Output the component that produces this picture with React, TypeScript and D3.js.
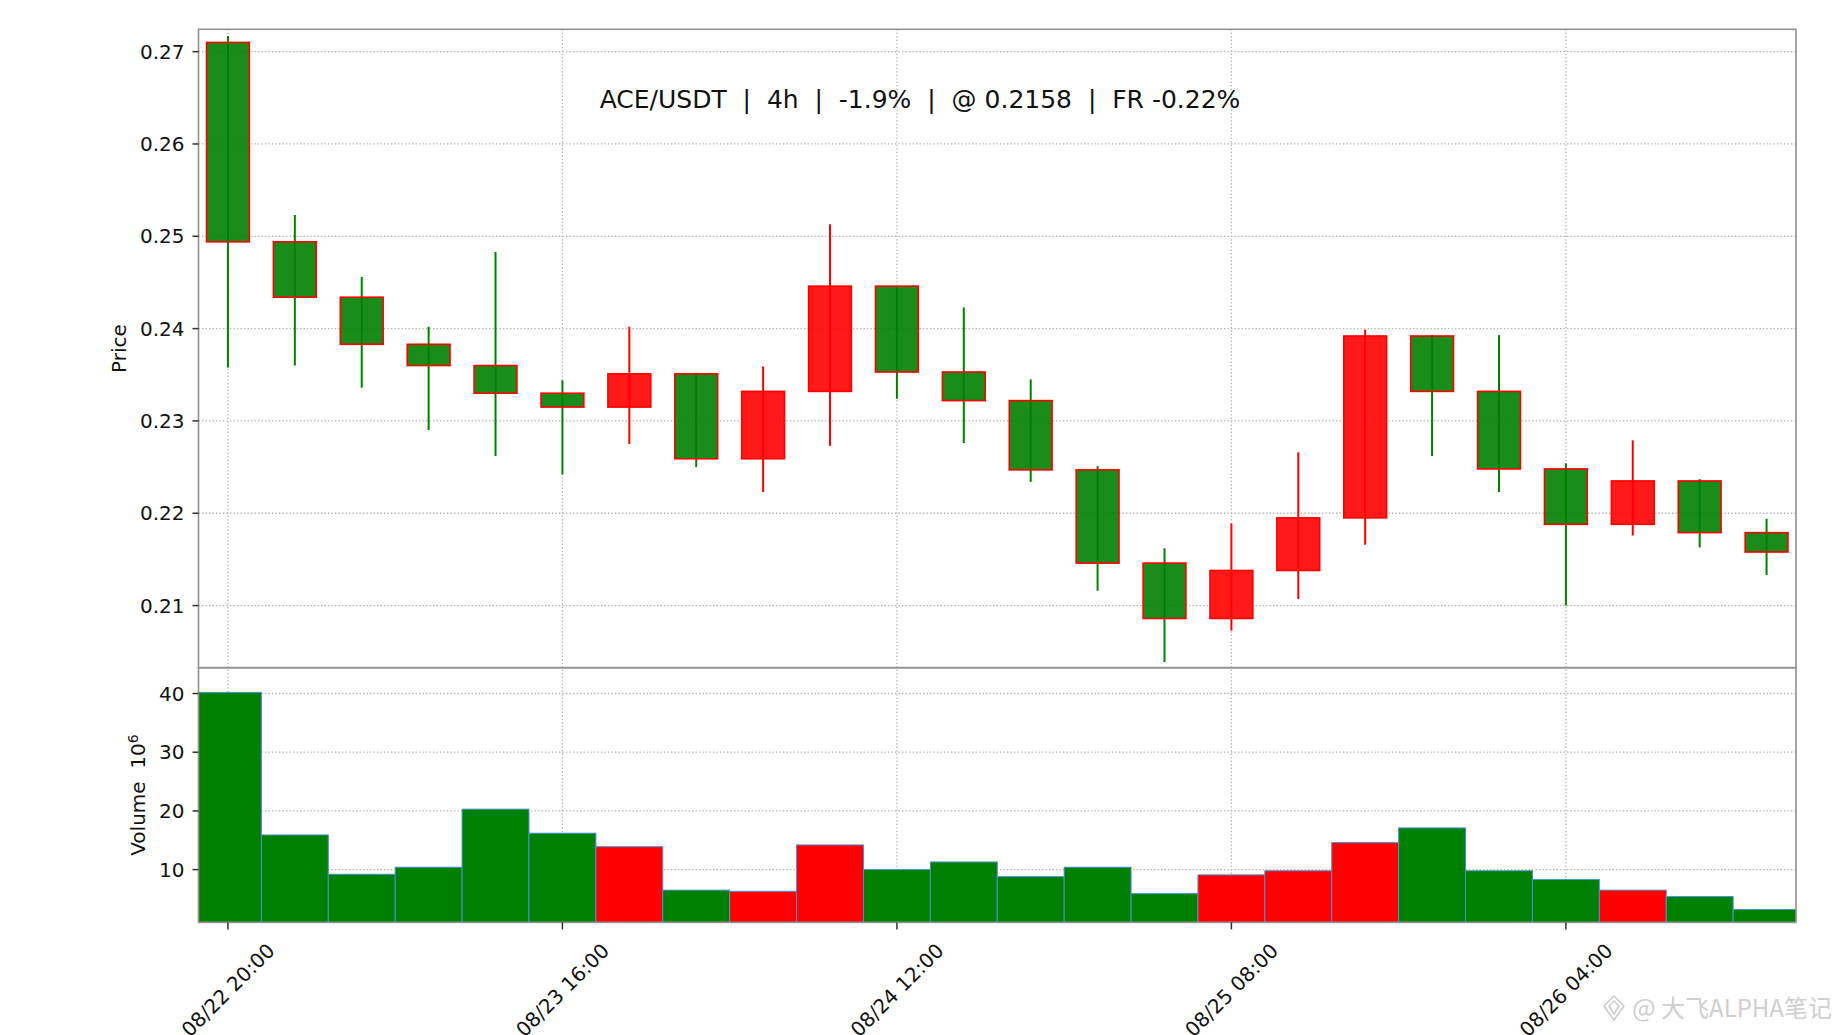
import React from "react";
import * as d3 from "d3";

// ---- data ----
const times = [
  "08/22 20:00", "08/23 00:00", "08/23 04:00", "08/23 08:00", "08/23 12:00", "08/23 16:00",
  "08/23 20:00", "08/24 00:00", "08/24 04:00", "08/24 08:00", "08/24 12:00", "08/24 16:00",
  "08/24 20:00", "08/25 00:00", "08/25 04:00", "08/25 08:00", "08/25 12:00", "08/25 16:00",
  "08/25 20:00", "08/26 00:00", "08/26 04:00", "08/26 08:00", "08/26 12:00", "08/26 16:00",
];
const opens = [0.2710, 0.2494, 0.2434, 0.2383, 0.2360, 0.2330, 0.2315, 0.2351, 0.2259, 0.2332, 0.2446, 0.2353,
  0.2322, 0.2247, 0.2146, 0.2086, 0.2138, 0.2195, 0.2392, 0.2332, 0.2248, 0.2188, 0.2235, 0.2179];
const highs = [0.2717, 0.2523, 0.2456, 0.2402, 0.2483, 0.2344, 0.2402, 0.2352, 0.2359, 0.2513, 0.2446, 0.2423,
  0.2345, 0.2251, 0.2162, 0.2189, 0.2266, 0.2399, 0.2393, 0.2393, 0.2254, 0.2279, 0.2237, 0.2194];
const lows = [0.2358, 0.2360, 0.2336, 0.2290, 0.2262, 0.2242, 0.2275, 0.2250, 0.2223, 0.2273, 0.2324, 0.2276,
  0.2234, 0.2116, 0.2039, 0.2073, 0.2107, 0.2166, 0.2262, 0.2223, 0.2100, 0.2176, 0.2163, 0.2133];
const closes = [0.2494, 0.2434, 0.2383, 0.2360, 0.2330, 0.2315, 0.2351, 0.2259, 0.2332, 0.2446, 0.2353, 0.2322,
  0.2247, 0.2146, 0.2086, 0.2138, 0.2195, 0.2392, 0.2332, 0.2248, 0.2188, 0.2235, 0.2179, 0.2158];
const volumes = [40.2, 15.9, 9.2, 10.4, 20.3, 16.2, 13.9, 6.5, 6.3, 14.2, 10.0, 11.3,
  8.8, 10.4, 5.9, 9.1, 9.8, 14.6, 17.1, 9.8, 8.3, 6.5, 5.4, 3.2];
const xTickLabels = ["08/22 20:00", "08/23 16:00", "08/24 12:00", "08/25 08:00", "08/26 04:00"];
const priceTicks = [0.21, 0.22, 0.23, 0.24, 0.25, 0.26, 0.27];
const volumeTicks = [10, 20, 30, 40];
const titleText = "ACE/USDT  |  4h  |  -1.9%  |  @ 0.2158  |  FR -0.22%";

// ---- layout ----
const W = 1840, H = 1035;
const L = 198.5, R = 1796;
const PT = 29.3, PB = 667.7, VB = 922.4;
const FONT = "DejaVu Sans, sans-serif";
const UP = "#ff0000", DOWN = "#008000";

export default function App() {
  const x = d3.scaleLinear().domain([-0.44, times.length - 1 + 0.44]).range([L, R]);
  const step = x(1) - x(0);
  const yP = d3.scaleLinear().domain([0.20327, 0.27242]).range([PB, PT]);
  const yV = d3.scaleLinear().domain([1.0, 44.4]).range([VB, PB]);
  const fmt = d3.format(".2f");
  const bodyW = step * 0.64;
  const tickIdx = xTickLabels.map((t) => times.indexOf(t));
  const gridStyle = { stroke: "#b0b0b0", strokeWidth: 1.3, strokeDasharray: "1.3,2.2" };

  return (
    <svg width={W} height={H} style={{ position: "absolute", left: 0, top: 0, display: "block", background: "#fff" }}
      fontFamily={FONT}>
      <rect x={0} y={0} width={W} height={H} fill="#fff" />
      <defs>
        <clipPath id="pclip"><rect x={L} y={PT} width={R - L} height={PB - PT} /></clipPath>
        <clipPath id="vclip"><rect x={L} y={PB} width={R - L} height={VB - PB} /></clipPath>
      </defs>

      {/* grids */}
      <g>
        {priceTicks.map((t) => (
          <line key={"pg" + t} x1={L} x2={R} y1={yP(t)} y2={yP(t)} {...gridStyle} />
        ))}
        {volumeTicks.map((t) => (
          <line key={"vg" + t} x1={L} x2={R} y1={yV(t)} y2={yV(t)} {...gridStyle} />
        ))}
        {tickIdx.map((i) => (
          <line key={"xg" + i} x1={x(i)} x2={x(i)} y1={PT} y2={VB} {...gridStyle} />
        ))}
      </g>

      {/* candles */}
      <g clipPath="url(#pclip)">
        {times.map((t, i) => {
          const up = closes[i] > opens[i];
          const c = up ? UP : DOWN;
          const top = yP(Math.max(opens[i], closes[i]));
          const bot = yP(Math.min(opens[i], closes[i]));
          return (
            <g key={t}>
              <line x1={x(i)} x2={x(i)} y1={yP(highs[i])} y2={yP(lows[i])} stroke={c} strokeWidth={2} />
              <rect x={x(i) - bodyW / 2} y={top} width={bodyW} height={Math.max(bot - top, 1)}
                fill={c} fillOpacity={0.9} stroke={UP} strokeWidth={1.6} />
            </g>
          );
        })}
      </g>

      {/* volume bars */}
      <g clipPath="url(#vclip)">
        {times.map((t, i) => {
          const up = closes[i] > opens[i];
          return (
            <rect key={"v" + t} x={x(i) - step / 2} y={yV(volumes[i])} width={step}
              height={VB - yV(volumes[i])} fill={up ? UP : DOWN} stroke="#4a90d0" strokeWidth={1} />
          );
        })}
      </g>

      {/* spines */}
      <rect x={L} y={PT} width={R - L} height={PB - PT} fill="none" stroke="#929292" strokeWidth={1.6} />
      <rect x={L} y={PB} width={R - L} height={VB - PB} fill="none" stroke="#929292" strokeWidth={1.6} />

      {/* price y axis */}
      {priceTicks.map((t) => (
        <g key={"pt" + t}>
          <line x1={L - 6} x2={L} y1={yP(t)} y2={yP(t)} stroke="#333" strokeWidth={1.5} />
          <text x={L - 14} y={yP(t)} dy="0.36em" textAnchor="end" fontSize={20} fill="#111">{fmt(t)}</text>
        </g>
      ))}
      {/* volume y axis */}
      {volumeTicks.map((t) => (
        <g key={"vt" + t}>
          <line x1={L - 6} x2={L} y1={yV(t)} y2={yV(t)} stroke="#333" strokeWidth={1.5} />
          <text x={L - 14} y={yV(t)} dy="0.36em" textAnchor="end" fontSize={20} fill="#111">{t}</text>
        </g>
      ))}

      {/* x axis */}
      {tickIdx.map((i, k) => (
        <g key={"xt" + i}>
          <line x1={x(i)} x2={x(i)} y1={VB} y2={VB + 7} stroke="#333" strokeWidth={1.5} />
          <text transform={`translate(${x(i)},${990}) rotate(-45)`} textAnchor="middle" dy="0.36em"
            fontSize={20} fill="#111">{xTickLabels[k]}</text>
        </g>
      ))}

      {/* axis labels */}
      <text transform={`translate(126,${(PT + PB) / 2}) rotate(-90)`} textAnchor="middle" fontSize={20} fill="#111">Price</text>
      <text transform={`translate(145,${(PB + VB) / 2}) rotate(-90)`} textAnchor="middle" fontSize={20} fill="#111"
        style={{ whiteSpace: "pre" }}>
        {"Volume  10"}<tspan dy="-0.5em" fontSize={14}>6</tspan>
      </text>

      {/* title */}
      <text x={920} y={108} textAnchor="middle" fontSize={25} fill="#111" style={{ whiteSpace: "pre" }}>{titleText}</text>

      {/* watermark */}
      <g opacity={0.55}>
        <path d="M1614,996 L1624,1006 L1614,1020 L1604,1006 Z M1614,1001 L1619,1006 L1614,1014 L1609,1006 Z"
          fill="none" stroke="#a0a0a0" strokeWidth={1.5} />
        <text x={1632} y={1017} fontSize={25} fill="#a8a8a8" fontFamily="Noto Sans CJK SC, sans-serif">@</text>
        <text x={1661} y={1017} fontSize={24} fill="#a8a8a8" fontFamily="Noto Sans CJK SC, sans-serif"
          textLength={171} lengthAdjust="spacingAndGlyphs">大飞ALPHA笔记</text>
      </g>
    </svg>
  );
}
